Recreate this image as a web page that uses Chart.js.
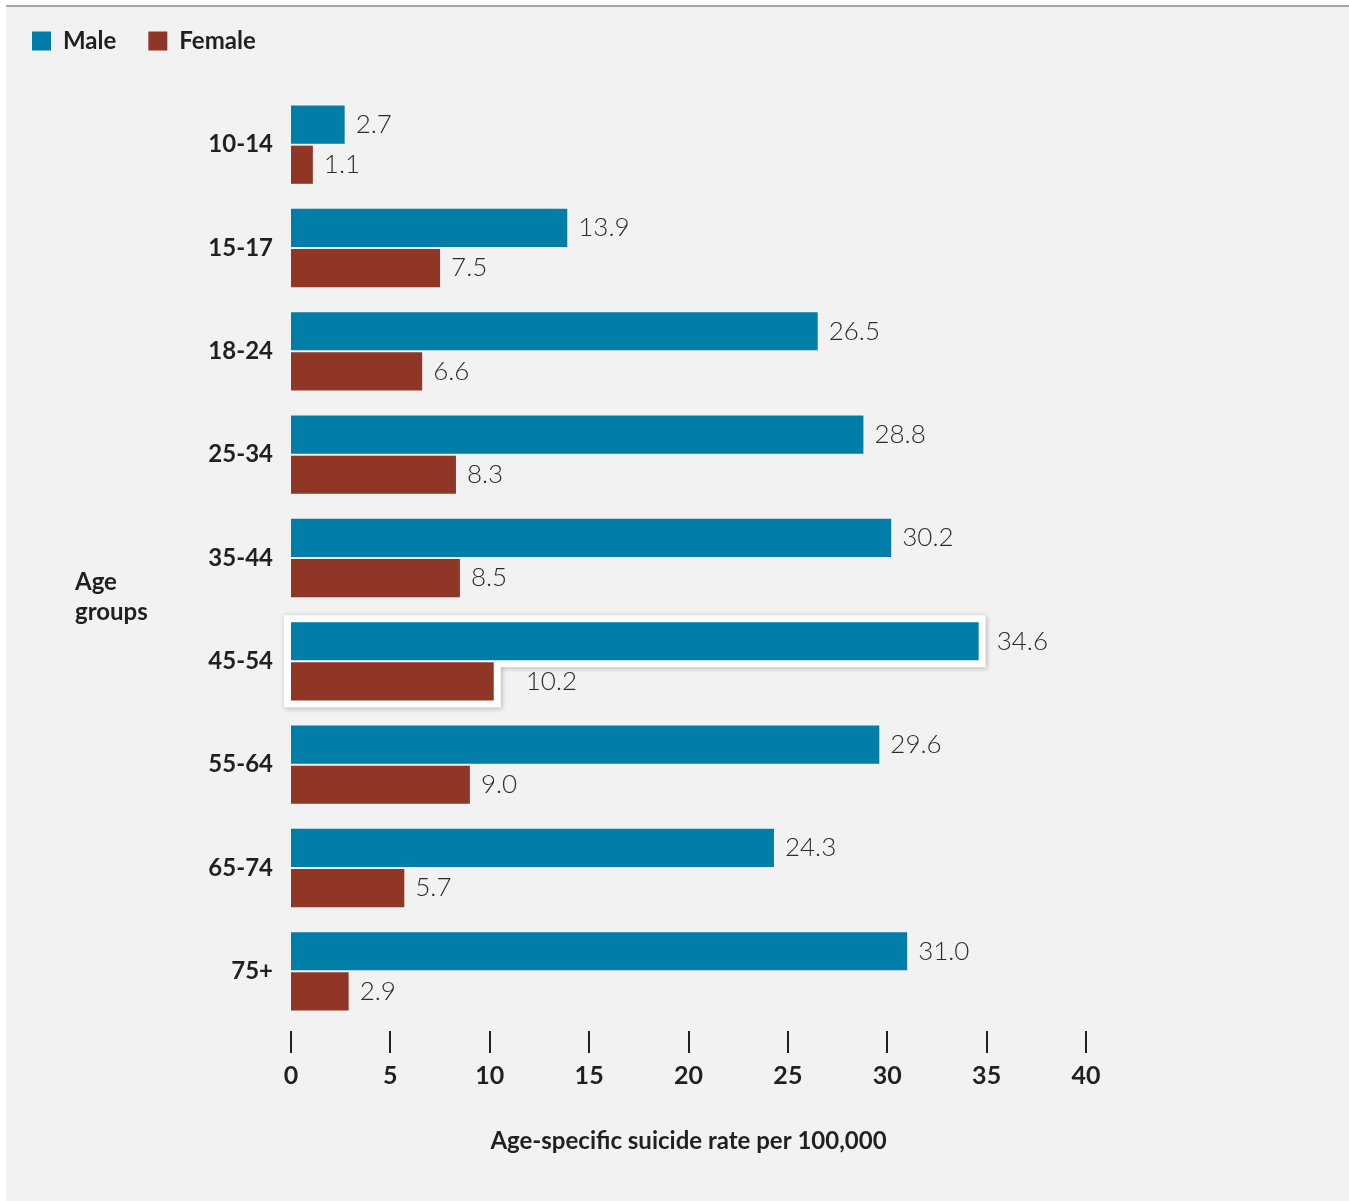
<!DOCTYPE html>
<html><head><meta charset="utf-8">
<script src="https://cdn.jsdelivr.net/npm/chart.js@4.4.1/dist/chart.umd.min.js"></script>
<style>
html,body{margin:0;padding:0;background:#fff;width:1349px;height:1201px;overflow:hidden}
#bg{position:absolute;left:6px;top:5px;right:0;bottom:0;background:#f2f2f2;border-top:2px solid #a6a6a6}
#wrap{position:absolute;left:0;top:0;width:1349px;height:1201px}
</style></head><body>
<div id="bg"></div>
<div id="wrap"><canvas id="c" width="1349" height="1201"></canvas></div>
<script>
const categories = ['10-14','15-17','18-24','25-34','35-44','45-54','55-64','65-74','75+'];
const maleRates = [2.7, 13.9, 26.5, 28.8, 30.2, 34.6, 29.6, 24.3, 31.0];
const femaleRates = [1.1, 7.5, 6.6, 8.3, 8.5, 10.2, 9.0, 5.7, 2.9];
const xTickValues = [0, 5, 10, 15, 20, 25, 30, 35, 40];
const seriesNames = ['Male', 'Female'];
const highlightIndex = 5;
const yTitleLines = ['Age', 'groups'];
const xTitle = 'Age-specific suicide rate per 100,000';

const FONT = "Lato, 'Open Sans', sans-serif";
const BLUE = '#007ea7';
const RED = '#8f3626';
const INK = '#231f20';

const highlightPlugin = {
  id: 'highlight',
  beforeDatasetsDraw(chart) {
    const m = chart.getDatasetMeta(0).data[highlightIndex];
    const f = chart.getDatasetMeta(1).data[highlightIndex];
    if (!m || !f) return;
    const pad = 7;
    const left = m.base - pad;
    const top = m.y - m.height / 2 - pad;
    const mRight = m.x + pad;
    const mBottom = m.y + m.height / 2 + pad;
    const fRight = f.x + pad;
    const fBottom = f.y + f.height / 2 + pad;
    const ctx = chart.ctx;
    ctx.save();
    ctx.shadowColor = 'rgba(0,0,0,0.28)';
    ctx.shadowBlur = 5;
    ctx.shadowOffsetX = 1;
    ctx.shadowOffsetY = 1;
    ctx.fillStyle = '#ffffff';
    ctx.beginPath();
    ctx.moveTo(left, top);
    ctx.lineTo(mRight, top);
    ctx.lineTo(mRight, mBottom);
    ctx.lineTo(fRight, mBottom);
    ctx.lineTo(fRight, fBottom);
    ctx.lineTo(left, fBottom);
    ctx.closePath();
    ctx.fill();
    ctx.restore();
  }
};

const labelPlugin = {
  id: 'valueLabels',
  afterDatasetsDraw(chart) {
    const ctx = chart.ctx;
    ctx.save();
    ctx.font = "300 26px " + FONT;
    ctx.fillStyle = '#2b2b2b';
    ctx.textBaseline = 'middle';
    ctx.textAlign = 'left';
    chart.data.datasets.forEach((ds, di) => {
      const meta = chart.getDatasetMeta(di);
      meta.data.forEach((bar, i) => {
        let x = bar.x + 11;
        if (i === highlightIndex) {
          if (di === 0) x = bar.x + 18;
          else x = bar.x + 32;
        }
        ctx.fillText(ds.data[i].toFixed(1), x, bar.y);
      });
    });
    ctx.restore();
  }
};

const axisExtrasPlugin = {
  id: 'axisExtras',
  afterDraw(chart) {
    const ctx = chart.ctx;
    const xs = chart.scales.x;
    const ys = chart.scales.y;
    ctx.save();
    ctx.strokeStyle = INK;
    ctx.lineWidth = 2;
    xs.ticks.forEach(t => {
      const px = Math.round(xs.getPixelForValue(t.value));
      ctx.beginPath();
      ctx.moveTo(px, xs.top + 8);
      ctx.lineTo(px, xs.top + 30);
      ctx.stroke();
    });
    ctx.fillStyle = INK;
    ctx.font = "bold 24px " + FONT;
    ctx.textAlign = 'left';
    ctx.textBaseline = 'middle';
    const cy = (ys.top + ys.bottom) / 2;
    ctx.fillText(yTitleLines[0], 75, cy + 24);
    ctx.fillText(yTitleLines[1], 75, cy + 54);
    ctx.restore();
  }
};

new Chart(document.getElementById('c'), {
  type: 'bar',
  data: {
    labels: categories,
    datasets: [
      { label: seriesNames[0], data: maleRates, backgroundColor: BLUE, borderWidth: 0,
        barPercentage: 0.95, categoryPercentage: 0.777 },
      { label: seriesNames[1], data: femaleRates, backgroundColor: RED, borderWidth: 0,
        barPercentage: 0.95, categoryPercentage: 0.777 }
    ]
  },
  options: {
    indexAxis: 'y',
    responsive: false,
    animation: false,
    devicePixelRatio: 1,
    layout: { padding: { top: -3, left: 0, right: 263, bottom: 38 } },
    plugins: {
      legend: {
        position: 'top',
        align: 'start',
        weight: 1000,
        labels: {
          boxWidth: 19, boxHeight: 19, padding: 32,
          color: INK,
          font: { family: FONT, size: 24, weight: 'bold' }
        }
      },
      title: {
        display: true,
        text: '',
        position: 'top',
        weight: 500,
        font: { size: 10 },
        padding: { top: 0, bottom: 18 }
      },
      tooltip: { enabled: false }
    },
    scales: {
      x: {
        min: 0, max: 40,
        afterBuildTicks(scale) { scale.ticks = xTickValues.map(v => ({ value: v })); },
        afterFit(scale) { scale.height = 140; },
        grid: { display: false },
        border: { display: false },
        ticks: {
          padding: 30,
          color: INK,
          font: { family: FONT, size: 25, weight: 'bold' }
        },
        title: {
          display: true,
          text: xTitle,
          color: INK,
          padding: { top: 0, bottom: 7 },
          font: { family: FONT, size: 24, weight: 'bold' }
        }
      },
      y: {
        afterFit(scale) { scale.width = 291; },
        grid: { display: false },
        border: { display: false },
        ticks: {
          padding: 10,
          color: INK,
          font: { family: FONT, size: 24, weight: 'bold' }
        }
      }
    }
  },
  plugins: [highlightPlugin, labelPlugin, axisExtrasPlugin]
});
</script>
</body></html>
